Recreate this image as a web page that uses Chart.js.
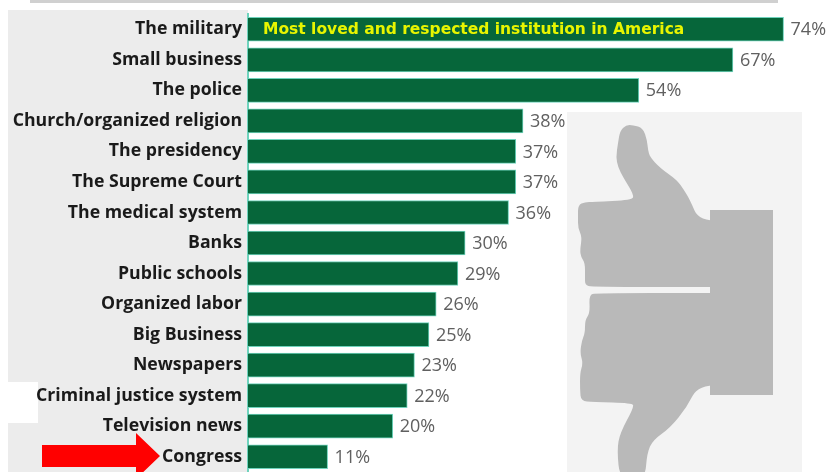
<!DOCTYPE html>
<html>
<head>
<meta charset="utf-8">
<style>
    html, body { margin: 0; padding: 0; background: #fff; }
    #wrap { width: 827px; height: 472px; }
</style>
</head>
<body>
<div id="wrap"><canvas id="chart" width="827" height="472"></canvas></div>
<script src="https://cdn.jsdelivr.net/npm/chart.js@4/dist/chart.umd.min.js"></script>
<script>
const institutions = ['The military', 'Small business', 'The police', 'Church/organized religion',
    'The presidency', 'The Supreme Court', 'The medical system', 'Banks', 'Public schools',
    'Organized labor', 'Big Business', 'Newspapers', 'Criminal justice system', 'Television news', 'Congress'];
const confidence = [74, 67, 54, 38, 37, 37, 36, 30, 29, 26, 25, 23, 22, 20, 11];
const headline = 'Most loved and respected institution in America';

const GREEN = '#06663a';
const TEAL = '#6fd3bd';

// 회색 패널 (막대 뒤)
const panels = {
    id: 'panels',
    beforeDraw(chart) {
        const ctx = chart.ctx;
        ctx.save();
        ctx.fillStyle = '#ececec';
        ctx.fillRect(8, 10, 240, 462);
        ctx.fillStyle = '#ffffff';
        ctx.fillRect(8, 382, 30, 41);
        ctx.fillStyle = '#f3f3f3';
        ctx.fillRect(567, 112, 235, 360);
        // 잘려 나간 제목 줄
        ctx.fillStyle = '#d0d0d0';
        ctx.fillRect(30, 0, 748, 3);
        ctx.restore();
    }
};

// 꼭짓점 사이 중점을 이어서 부드러운 외곽선으로 채움
function smoothShape(ctx, pts) {
    const mid = (a, b) => [(a[0] + b[0]) / 2, (a[1] + b[1]) / 2];
    const start = mid(pts[pts.length - 1], pts[0]);
    ctx.beginPath();
    ctx.moveTo(start[0], start[1]);
    pts.forEach((p, i) => {
        const m = mid(p, pts[(i + 1) % pts.length]);
        ctx.quadraticCurveTo(p[0], p[1], m[0], m[1]);
    });
    ctx.closePath();
    ctx.fill();
}

// 엄지 위/아래 그림
function drawThumbs(ctx) {
    smoothShape(ctx, [[633, 125], [643, 128], [647, 140], [648, 150], [650, 157], [660, 168], [677, 180], [684, 190],
        [690, 200], [699, 221], [740, 221], [740, 286], [730, 287], [712, 287], [592, 287], [585, 285], [585, 277],
        [585, 263], [581, 257], [580, 250], [582, 237], [578, 228], [578, 217], [578, 205], [585, 202], [593, 202],
        [632, 200], [634, 195], [623, 177], [618, 167], [616, 157], [618, 143], [620, 131], [626, 125]]);
    smoothShape(ctx, [[596, 293], [707, 293], [730, 293], [740, 300], [740, 385], [698, 385],
        [687, 407], [670, 428], [653, 440], [647, 453], [645, 480], [620, 480], [617, 450], [620, 433], [634, 407],
        [632, 403], [593, 402], [581, 401], [580, 390], [580, 373], [583, 363], [580, 353], [582, 340], [585, 333],
        [585, 320], [590, 313], [589, 295]]);
    ctx.fillRect(710, 210, 63, 185);
}

// 엄지 그림, 빨간 화살표, 막대 안 문구, 값 라벨
const overlays = {
    id: 'overlays',
    afterDatasetsDraw(chart) {
        const ctx = chart.ctx;
        const bars = chart.getDatasetMeta(0).data;

        ctx.save();
        ctx.fillStyle = '#b9b9b9';
        drawThumbs(ctx);

        ctx.font = '18px "Open Sans"';
        ctx.fillStyle = '#606060';
        ctx.textAlign = 'left';
        ctx.textBaseline = 'middle';
        bars.forEach((bar, i) => {
            ctx.fillText(confidence[i] + '%', bar.x + 7, bar.y + 1);
        });

        ctx.font = 'bold 15.5px "DejaVu Sans"';
        ctx.fillStyle = '#e8f500';
        ctx.fillText(headline, bars[0].base + 15, bars[0].y + 1);
        ctx.restore();

        ctx.save();
        ctx.fillStyle = '#ff0000';
        ctx.beginPath();
        ctx.moveTo(42, 445);
        ctx.lineTo(136, 445);
        ctx.lineTo(136, 433);
        ctx.lineTo(160, 456);
        ctx.lineTo(136, 479);
        ctx.lineTo(136, 467);
        ctx.lineTo(42, 467);
        ctx.closePath();
        ctx.fill();
        ctx.restore();
    }
};

new Chart(document.getElementById('chart').getContext('2d'), {
    type: 'bar',
    data: {
        labels: institutions,
        datasets: [{
            data: confidence,
            backgroundColor: GREEN,
            borderColor: TEAL,
            borderWidth: 1,
            barThickness: 24
        }]
    },
    plugins: [panels, overlays],
    options: {
        indexAxis: 'y',
        responsive: false,
        animation: false,
        layout: { padding: { top: 14, bottom: 0 } },
        plugins: { legend: { display: false }, tooltip: { enabled: false } },
        scales: {
            x: {
                display: false,
                min: 0,
                max: 80
            },
            y: {
                afterFit(axis) {
                    axis.width = 248;
                    axis.paddingTop = 0;
                    axis.paddingBottom = 0;
                },
                grid: { display: false, drawTicks: false },
                border: { color: TEAL, width: 2 },
                ticks: {
                    autoSkip: false,
                    padding: 6,
                    color: '#1a1a1a',
                    font: { family: 'Open Sans', size: 17.7, weight: '700' }
                }
            }
        }
    }
});
</script>
</body>
</html>
